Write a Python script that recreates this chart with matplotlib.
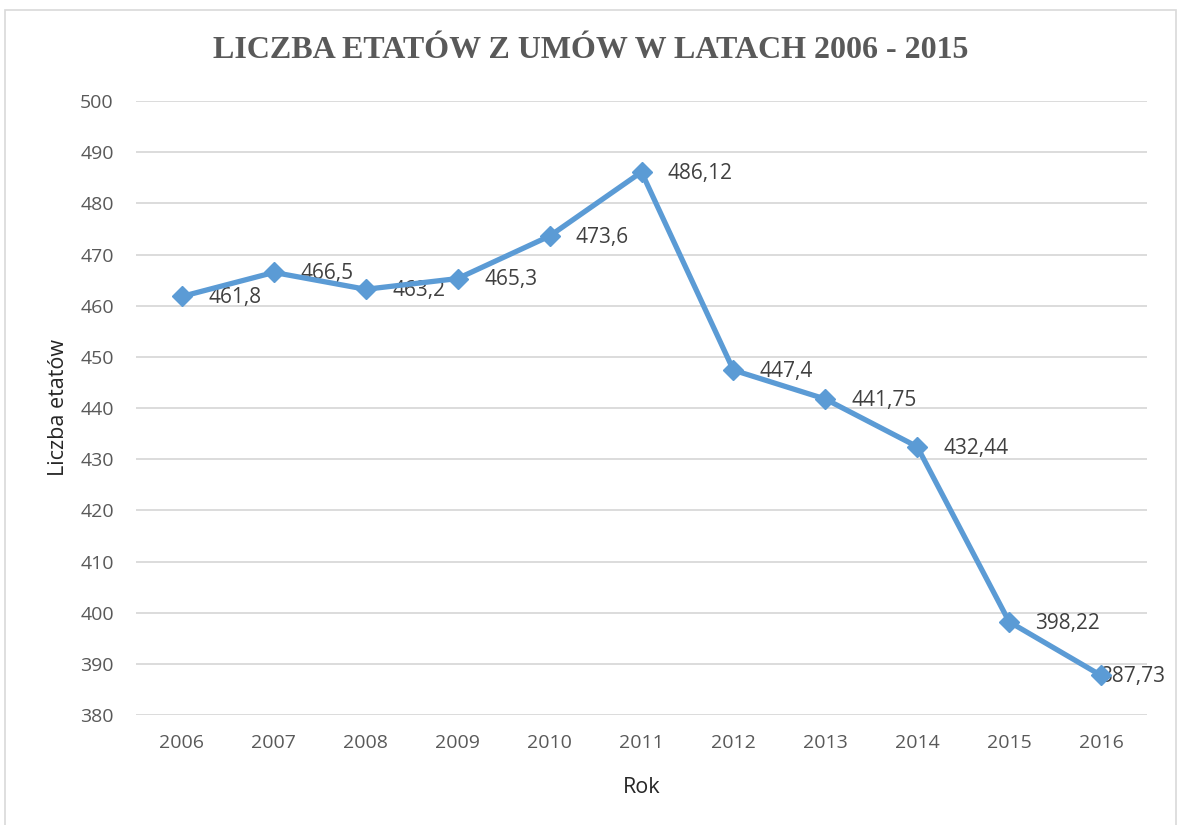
import matplotlib.pyplot as plt
from matplotlib.patches import Rectangle

years = ['2006', '2007', '2008', '2009', '2010', '2011', '2012', '2013', '2014', '2015', '2016']
etaty = [461.8, 466.5, 463.2, 465.3, 473.6, 486.12, 447.4, 441.75, 432.44, 398.22, 387.73]
labels = ['461,8', '466,5', '463,2', '465,3', '473,6', '486,12', '447,4', '441,75', '432,44', '398,22', '387,73']

grey = '#595959'
blue = '#5B9BD5'

fig = plt.figure(figsize=(11.82, 8.25), dpi=100)
ax = fig.add_axes([136/1182, 1 - 715/825, (1147 - 136)/1182, (715 - 101)/825])

x = list(range(len(years)))
ax.plot(x, etaty, color=blue, linewidth=3.8, marker='D', markersize=10.5, zorder=3)
for i in range(len(x)):
    dx = 19
    if i == len(x) - 1:
        dx = -1  # excel pushed the last label back inside the chart
    ax.annotate(labels[i], (x[i], etaty[i]), xytext=(dx, -1), textcoords='offset points',
                ha='left', va='center', fontsize=15, color='#404040', family='Open Sans',
                zorder=2)

ax.set_xlim(-0.5, 10.5)
ax.set_ylim(380, 500)
ax.set_yticks(range(380, 501, 10))
ax.set_xticks(x)
ax.set_xticklabels(years)
ax.grid(axis='y', color='#D9D9D9', linewidth=1.3)
ax.set_axisbelow(True)
for s in ax.spines.values():
    s.set_visible(False)
ax.tick_params(length=0, labelsize=14, colors=grey)
for t in ax.get_xticklabels() + ax.get_yticklabels():
    t.set_family('Open Sans')
ax.tick_params(axis='x', pad=14)
ax.tick_params(axis='y', pad=16)

ax.set_xlabel('Rok', fontsize=15.5, color='#262626', family='Open Sans', labelpad=18)
ax.set_ylabel('Liczba etatów', fontsize=15.5, color='#262626', family='Open Sans', labelpad=8)

fig.text(0.5, 1 - 50/825, 'LICZBA ETATÓW Z UMÓW W LATACH 2006 - 2015', ha='center', va='center',
         fontsize=23, fontweight='bold', color=grey, family='Liberation Serif')

fig.patches.append(Rectangle((5/1182, -0.01), 1171/1182, 1.01 - 10/825, transform=fig.transFigure,
                             fill=False, edgecolor='#D9D9D9', linewidth=1.2))

fig.savefig('out.png', dpi=100)
